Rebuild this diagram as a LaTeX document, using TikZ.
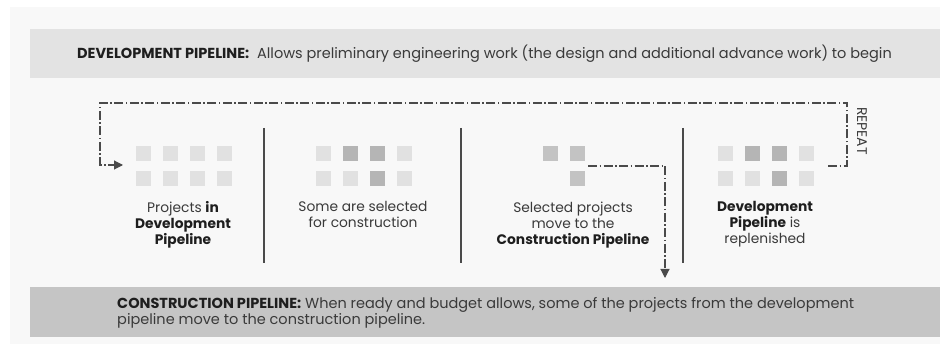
\documentclass[tikz,border=0pt]{standalone}
\usepackage{fontspec}
\setmainfont{Poppins}
\usetikzlibrary{arrows.meta}
\definecolor{panelbg}{HTML}{F8F8F8}
\definecolor{topband}{HTML}{E3E3E3}
\definecolor{botband}{HTML}{C5C5C5}
\definecolor{sqlight}{HTML}{E1E1E1}
\definecolor{sqdark}{HTML}{B5B5B5}
\definecolor{sqmid}{HTML}{C3C3C3}
\definecolor{linegray}{HTML}{4A4A4A}
\definecolor{txt}{HTML}{3A3A3A}
\definecolor{txtb}{HTML}{1E1E1E}
\tikzset{
 sq/.style={minimum size=15pt, inner sep=0pt, fill=#1},
 flow/.style={draw=linegray, line width=1.1pt, dash pattern=on 9pt off 2.5pt on 1.5pt off 2.5pt},
 tipend/.style={-{Triangle[length=9pt,width=9pt]}},
 divider/.style={draw=linegray, line width=1.8pt},
 caption/.style={align=center, font=\fontsize{13.8}{16}\selectfont, text=txt, inner sep=0pt, anchor=north},
 bandtext/.style={font=\fontsize{14.5}{15.5}\selectfont, text=txt, inner sep=0pt, align=left},
}
\begin{document}
\begin{tikzpicture}[x=1pt,y=-1pt]
\useasboundingbox (0,0) rectangle (940,344);
\fill[white] (0,0) rectangle (940,344);
\fill[panelbg] (10,7) rectangle (940,344);
% bands
\node[fill=topband, minimum width=910pt, minimum height=49pt, inner sep=0pt, anchor=north west] (devband) at (30,29) {};
\node[fill=botband, minimum width=910pt, minimum height=50pt, inner sep=0pt, anchor=north west] (conband) at (30,287) {};
\node[bandtext, anchor=west] (devtext) at (77,54) {\textcolor{txtb}{\textbf{DEVELOPMENT PIPELINE:}}\ \ Allows preliminary engineering work (the design and additional advance work) to begin};
\node[bandtext, anchor=west] (context) at (117,313) {\textcolor{txtb}{\textbf{CONSTRUCTION PIPELINE:}} When ready and budget allows, some of the projects from the development\\pipeline move to the construction pipeline.};
% dividers
\draw[divider] (264,128) -- (264,263);
\draw[divider] (461,128) -- (461,263);
\draw[divider] (683,128) -- (683,263);
% grid 1
\foreach \x [count=\i] in {143,170,197,224}{
  \node[sq=sqlight] (a1\i) at (\x,153.5) {};
  \node[sq=sqlight] (a2\i) at (\x,178.5) {};
}
% grid 2
\node[sq=sqlight] (b11) at (323,153.5) {};
\node[sq=sqdark]  (b12) at (350,153.5) {};
\node[sq=sqdark]  (b13) at (377,153.5) {};
\node[sq=sqlight] (b14) at (404,153.5) {};
\node[sq=sqlight] (b21) at (323,178.5) {};
\node[sq=sqlight] (b22) at (350,178.5) {};
\node[sq=sqdark]  (b23) at (377,178.5) {};
\node[sq=sqlight] (b24) at (404,178.5) {};
% grid 3
\node[sq=sqmid] (c11) at (550.5,153.5) {};
\node[sq=sqmid] (c12) at (577.5,153.5) {};
\node[sq=sqmid] (c22) at (577.5,178.5) {};
% grid 4
\node[sq=sqlight] (d11) at (725,153.5) {};
\node[sq=sqdark]  (d12) at (752,153.5) {};
\node[sq=sqdark]  (d13) at (779,153.5) {};
\node[sq=sqlight] (d14) at (806,153.5) {};
\node[sq=sqlight] (d21) at (725,178.5) {};
\node[sq=sqlight] (d22) at (752,178.5) {};
\node[sq=sqdark]  (d23) at (779,178.5) {};
\node[sq=sqlight] (d24) at (806,178.5) {};
% captions
\node[caption] (cap1) at (183,201.5) {Projects \textcolor{txtb}{\textbf{in}}\\\textcolor{txtb}{\textbf{Development}}\\\textcolor{txtb}{\textbf{Pipeline}}};
\node[caption] (cap2) at (363,201.5) {Some are selected\\for construction};
\node[caption] (cap3) at (573,201.5) {Selected projects\\move to the\\\textcolor{txtb}{\textbf{Construction Pipeline}}};
\node[caption] (cap4) at (765,201.5) {\textcolor{txtb}{\textbf{Development}}\\\textcolor{txtb}{\textbf{Pipeline}} is\\replenished};
% repeat loop
\coordinate (rs) at (828,166);
\coordinate (rc) at (847,166);
\coordinate (rt) at (847,103);
\coordinate (lt) at (100,103);
\coordinate (lc) at (100,165);
\coordinate (le) at (123,165);
\draw[flow, tipend] (rs) -- (rc) -- (rt) -- (lt) -- (lc) -- (le);
\node[rotate=-90, font=\fontsize{14}{15}\selectfont, text=txt, inner sep=0pt] (rep) at (862,131) {REPEAT};
% move to construction
\coordinate (ms) at (588,166);
\coordinate (mc) at (665,166);
\coordinate (me) at (665,278);
\draw[flow, tipend] (ms) -- (mc) -- (me);
\end{tikzpicture}
\end{document}
